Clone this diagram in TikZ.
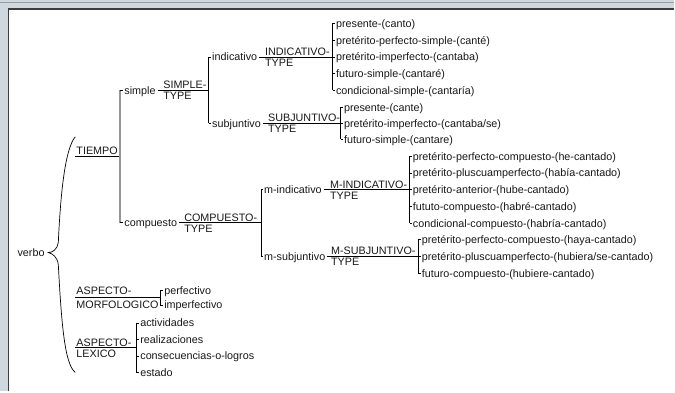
\documentclass[tikz,border=0pt]{standalone}
\usepackage{fontspec}
\setmainfont{Liberation Sans}
\newcommand{\fsz}{\fontsize{10.8}{13}\selectfont}
\definecolor{framebg}{RGB}{207,215,223}
\definecolor{framedark}{RGB}{60,60,60}
\definecolor{framemid}{RGB}{150,156,162}
\definecolor{txtc}{RGB}{25,25,25}
\definecolor{vgray}{RGB}{150,150,150}
\begin{document}
\begin{tikzpicture}[x=1pt,y=-1pt,
  lbl/.style={anchor=west, inner sep=0pt, text height=9.5pt, text depth=1.5pt, font=\fsz, text=txtc},
  typ/.style={anchor=base west, inner sep=0pt, font=\fsz, text=txtc},
  ln/.style={line width=0.75pt, draw=black},
  gln/.style={line width=2pt, draw=vgray},
]
% frame
\fill[framebg] (0,0) rectangle (675,392);
\fill[white] (9,10) rectangle (675,392);
\draw[framemid, line width=0.8pt] (0,2.5) -- (675,2.5);
\draw[framedark, line width=1.5pt] (8.25,392) -- (8.25,9.25) -- (675,9.25);
\useasboundingbox (0,0) rectangle (675,392);

% vertical junction abscissae
\coordinate (vT) at (119.5,0);
\coordinate (vS) at (208.5,0);
\coordinate (vI) at (333,0);
\coordinate (vSu) at (341,0);
\coordinate (vC) at (261,0);
\coordinate (vMI) at (410,0);
\coordinate (vMS) at (418.5,0);
\coordinate (vAM) at (160,0);
\coordinate (vAL) at (136,0);

% root and brace
\node[lbl] (verbo) at (17,253) {verbo};
\coordinate (brTop) at (75,137);
\coordinate (brTip) at (48,253);
\coordinate (brBot) at (75,373);
\draw[line width=0.7pt] (brTop) .. controls (64,150) and (60,200) .. (58,243)
  .. controls (57,250) and (52,253) .. (brTip)
  .. controls (52,254) and (57,257) .. (58,265)
  .. controls (61,320) and (64,365) .. (brBot);

% TIEMPO
\node[typ] (tiempo) at (76,155) {TIEMPO};
\coordinate (tStart) at (75,156.75);
\node[lbl] (simple) at (124,90.25) {simple};
\node[lbl] (compuesto) at (124,223.25) {compuesto};
\draw[ln] (tStart) -- (vT |- tStart);
\draw[gln] (vT |- simple.west) -- (vT |- compuesto.west);
\draw[ln] (vT |- simple.west) -- ([xshift=-1pt]simple.west);
\draw[ln] (vT |- compuesto.west) -- ([xshift=-1pt]compuesto.west);

% SIMPLE-TYPE
\node[typ] (simpleA) at (163,88.75) {SIMPLE-};
\node[typ] (simpleB) at (163,99.75) {TYPE};
\node[lbl] (indicativo) at (212,57) {indicativo};
\node[lbl] (subjuntivo) at (212,123.5) {subjuntivo};
\draw[ln] ([xshift=2pt]simple.east) -- (vS |- simple.east);
\draw[ln] (vS |- indicativo.west) -- (vS |- subjuntivo.west);
\draw[ln] (vS |- indicativo.west) -- ([xshift=-1pt]indicativo.west);
\draw[ln] (vS |- subjuntivo.west) -- ([xshift=-1pt]subjuntivo.west);

% INDICATIVO-TYPE
\node[typ] (indA) at (265,55.5) {INDICATIVO-};
\node[typ] (indB) at (265,66.5) {TYPE};
\node[lbl] (i1) at (336,23.5) {presente-(canto)};
\node[lbl] (i2) at (336,40.25) {pretérito-perfecto-simple-(canté)};
\node[lbl] (i3) at (336,57) {pretérito-imperfecto-(cantaba)};
\node[lbl] (i4) at (336,73.75) {futuro-simple-(cantaré)};
\node[lbl] (i5) at (336,90.5) {condicional-simple-(cantaría)};
\draw[ln] ([xshift=2pt]indicativo.east) -- (vI |- indicativo.east);
\draw[ln] (vI |- i1.west) -- (vI |- i5.west);
\foreach \n in {i1,i2,i3,i4,i5} \draw[ln] (vI |- \n.west) -- ([xshift=-1pt]\n.west);

% SUBJUNTIVO-TYPE
\node[typ] (subA) at (268,122) {SUBJUNTIVO-};
\node[typ] (subB) at (268,133) {TYPE};
\node[lbl] (s1) at (344,107.5) {presente-(cante)};
\node[lbl] (s2) at (344,123.5) {pretérito-imperfecto-(cantaba/se)};
\node[lbl] (s3) at (344,139.5) {futuro-simple-(cantare)};
\draw[ln] ([xshift=2pt]subjuntivo.east) -- (vSu |- subjuntivo.east);
\draw[ln] (vSu |- s1.west) -- (vSu |- s3.west);
\foreach \n in {s1,s2,s3} \draw[ln] (vSu |- \n.west) -- ([xshift=-1pt]\n.west);

% COMPUESTO-TYPE
\node[typ] (compA) at (184,221.75) {COMPUESTO-};
\node[typ] (compB) at (184,232.75) {TYPE};
\node[lbl] (mind) at (264,190) {m-indicativo};
\node[lbl] (msub) at (264,256.5) {m-subjuntivo};
\draw[ln] ([xshift=2pt]compuesto.east) -- (vC |- compuesto.east);
\draw[ln] (vC |- mind.west) -- (vC |- msub.west);
\draw[ln] (vC |- mind.west) -- ([xshift=-1pt]mind.west);
\draw[ln] (vC |- msub.west) -- ([xshift=-1pt]msub.west);

% M-INDICATIVO-TYPE
\node[typ] (mindA) at (330,188.5) {M-INDICATIVO-};
\node[typ] (mindB) at (330,199.5) {TYPE};
\node[lbl] (mi1) at (413,156.5) {pretérito-perfecto-compuesto-(he-cantado)};
\node[lbl] (mi2) at (413,173.25) {pretérito-pluscuamperfecto-(había-cantado)};
\node[lbl] (mi3) at (413,190) {pretérito-anterior-(hube-cantado)};
\node[lbl] (mi4) at (413,206.75) {fututo-compuesto-(habré-cantado)};
\node[lbl] (mi5) at (413,223.5) {condicional-compuesto-(habría-cantado)};
\draw[ln] ([xshift=2pt]mind.east) -- (vMI |- mind.east);
\draw[ln] (vMI |- mi1.west) -- (vMI |- mi5.west);
\foreach \n in {mi1,mi2,mi3,mi4,mi5} \draw[ln] (vMI |- \n.west) -- ([xshift=-1pt]\n.west);

% M-SUBJUNTIVO-TYPE
\node[typ] (msubA) at (331,255) {M-SUBJUNTIVO-};
\node[typ] (msubB) at (331,266) {TYPE};
\node[lbl] (ms1) at (422,239.5) {pretérito-perfecto-compuesto-(haya-cantado)};
\node[lbl] (ms2) at (422,256.5) {pretérito-pluscuamperfecto-(hubiera/se-cantado)};
\node[lbl] (ms3) at (422,273.5) {futuro-compuesto-(hubiere-cantado)};
\draw[ln] ([xshift=2pt]msub.east) -- (vMS |- msub.east);
\draw[ln] (vMS |- ms1.west) -- (vMS |- ms3.west);
\foreach \n in {ms1,ms2,ms3} \draw[ln] (vMS |- \n.west) -- ([xshift=-1pt]\n.west);

% ASPECTO-MORFOLOGICO
\node[typ] (amA) at (76,295) {ASPECTO-};
\node[typ] (amB) at (76,309) {MORFOLOGICO};
\coordinate (amStart) at (75,298.3);
\node[lbl] (am1) at (164,291) {perfectivo};
\node[lbl] (am2) at (164,305.5) {imperfectivo};
\draw[ln] (amStart) -- (vAM |- amStart);
\draw[ln] (vAM |- am1.west) -- (vAM |- am2.west);
\draw[ln] (vAM |- am1.west) -- ([xshift=-1pt]am1.west);
\draw[ln] (vAM |- am2.west) -- ([xshift=-1pt]am2.west);

% ASPECTO-LEXICO
\node[typ] (alA) at (76,346.7) {ASPECTO-};
\node[typ] (alB) at (76,358.3) {LEXICO};
\coordinate (alStart) at (75,348.25);
\node[lbl] (al1) at (140,323.5) {actividades};
\node[lbl] (al2) at (140,340) {realizaciones};
\node[lbl] (al3) at (140,356.5) {consecuencias-o-logros};
\node[lbl] (al4) at (140,373) {estado};
\draw[ln] (alStart) -- (vAL |- alStart);
\draw[ln] (vAL |- al1.west) -- (vAL |- al4.west);
\foreach \n in {al1,al2,al3,al4} \draw[ln] (vAL |- \n.west) -- ([xshift=-1pt]\n.west);
\end{tikzpicture}
\end{document}
